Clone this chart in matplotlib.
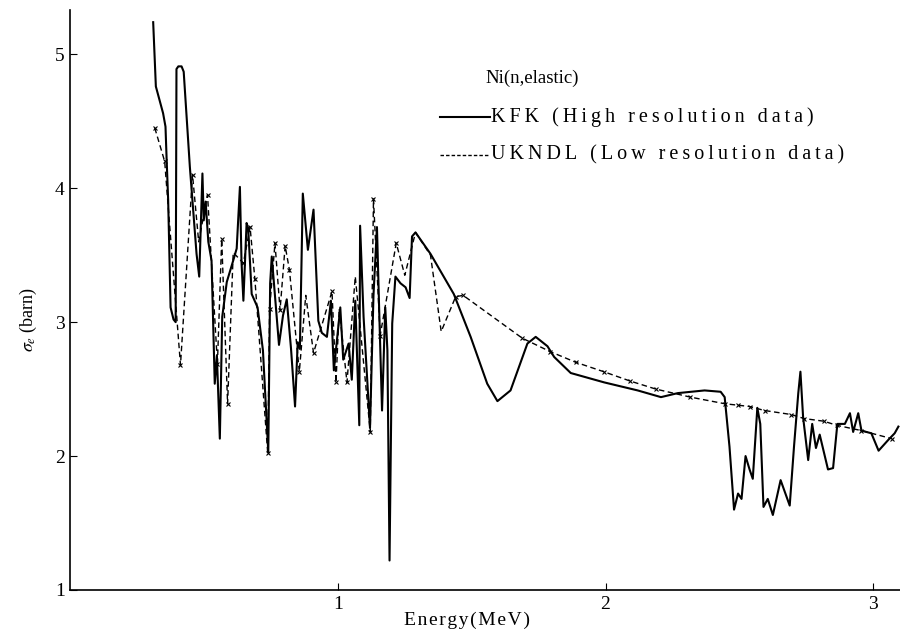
import matplotlib.pyplot as plt

# KFK high resolution elastic cross section (MeV, barn)
kfk_energy = [
    0.310, 0.320, 0.347, 0.356, 0.360, 0.366, 0.375, 0.386, 0.394, 0.397,
    0.404, 0.416, 0.424, 0.447, 0.472, 0.482, 0.494, 0.499, 0.506, 0.516,
    0.528, 0.540, 0.548, 0.559, 0.568, 0.585, 0.609, 0.622, 0.634, 0.640,
    0.647, 0.659, 0.665, 0.678, 0.700, 0.720, 0.740, 0.747, 0.753, 0.765,
    0.780, 0.795, 0.809, 0.825, 0.840, 0.850, 0.858, 0.869, 0.888, 0.909,
    0.927, 0.940, 0.959, 0.974, 0.985, 1.009, 1.020, 1.040, 1.052, 1.065,
    1.080, 1.083, 1.096, 1.120, 1.133, 1.146, 1.155, 1.165, 1.177, 1.185,
    1.193, 1.203, 1.215, 1.234, 1.253, 1.268, 1.277, 1.290, 1.346, 1.433,
    1.496, 1.558, 1.596, 1.645, 1.708, 1.739, 1.783, 1.808, 1.870, 1.995,
    2.120, 2.207, 2.270, 2.370, 2.430, 2.445, 2.463, 2.480, 2.495, 2.508,
    2.523, 2.538, 2.550, 2.567, 2.578, 2.590, 2.606, 2.625, 2.654, 2.688,
    2.704, 2.720, 2.728, 2.738, 2.757, 2.772, 2.786, 2.800, 2.831, 2.850,
    2.866, 2.894, 2.913, 2.925, 2.944, 2.956, 2.993, 3.020, 3.056, 3.080,
    3.094,
]
kfk_sigma = [
    5.24, 4.76, 4.56, 4.46, 4.23, 3.91, 3.11, 3.02, 3.00, 4.89,
    4.91, 4.91, 4.87, 4.16, 3.51, 3.34, 4.11, 3.76, 3.90, 3.60,
    3.46, 2.54, 2.75, 2.13, 3.04, 3.30, 3.46, 3.55, 4.01, 3.45,
    3.16, 3.74, 3.70, 3.21, 3.11, 2.79, 2.03, 3.29, 3.49, 3.20,
    2.83, 3.05, 3.17, 2.80, 2.37, 2.85, 2.80, 3.96, 3.54, 3.84,
    3.01, 2.92, 2.89, 3.16, 2.64, 3.11, 2.72, 2.84, 2.57, 3.16,
    2.23, 3.72, 3.04, 2.21, 3.20, 3.71, 3.04, 2.34, 3.11, 2.79,
    1.22, 2.99, 3.34, 3.29, 3.26, 3.18, 3.64, 3.67, 3.51, 3.21,
    2.89, 2.54, 2.41, 2.49, 2.84, 2.89, 2.82, 2.74, 2.62, 2.55,
    2.49, 2.44, 2.47, 2.49, 2.48, 2.44, 2.07, 1.60, 1.72, 1.68,
    2.00, 1.90, 1.83, 2.36, 2.24, 1.62, 1.68, 1.56, 1.82, 1.63,
    2.07, 2.47, 2.63, 2.29, 1.97, 2.24, 2.06, 2.16, 1.90, 1.91,
    2.24, 2.24, 2.32, 2.18, 2.32, 2.19, 2.17, 2.04, 2.12, 2.17,
    2.22,
]

# UKNDL low resolution evaluation; ukndl_marked flags tabulated points (x)
ukndl_energy = [
    0.316, 0.353, 0.412, 0.457, 0.480, 0.513, 0.550, 0.566, 0.588, 0.609,
    0.647, 0.672, 0.690, 0.738, 0.745, 0.765, 0.784, 0.803, 0.819, 0.856,
    0.880, 0.909, 0.978, 0.993, 1.005, 1.034, 1.065, 1.121, 1.133, 1.158,
    1.218, 1.250, 1.290, 1.346, 1.386, 1.440, 1.468, 1.689, 1.793, 1.889,
    1.993, 2.092, 2.188, 2.317, 2.447, 2.494, 2.538, 2.594, 2.694, 2.742,
    2.816, 2.863, 2.956, 3.069,
]
ukndl_sigma = [
    4.45, 4.20, 2.68, 4.10, 3.60, 3.95, 2.69, 3.62, 2.39, 3.52,
    3.44, 3.71, 3.32, 2.02, 3.10, 3.59, 3.09, 3.57, 3.39, 2.63,
    3.20, 2.77, 3.23, 2.55, 3.10, 2.55, 3.34, 2.18, 3.92, 2.90,
    3.59, 3.35, 3.67, 3.50, 2.93, 3.19, 3.20, 2.88, 2.78, 2.70,
    2.63, 2.56, 2.50, 2.44, 2.39, 2.38, 2.37, 2.34, 2.31, 2.28,
    2.26, 2.23, 2.19, 2.13,
]
ukndl_marked = [
    1, 1, 1, 1, 0, 1, 1, 1, 1, 0,
    1, 1, 1, 1, 1, 1, 1, 1, 1, 1,
    0, 1, 1, 1, 0, 1, 0, 1, 1, 1,
    1, 0, 0, 0, 0, 1, 1, 1, 1, 1,
    1, 1, 1, 1, 1, 1, 1, 1, 1, 1,
    1, 1, 1, 1,
]

x_ticks = [1, 2, 3]
y_ticks = [1, 2, 3, 4, 5]

plt.rcParams["font.family"] = ["Liberation Serif", "DejaVu Serif"]
plt.rcParams["mathtext.fontset"] = "stix"


def spaced(text, gap):
    """Letter-space a string by putting `gap` between its characters."""
    return gap.join(text)


fig = plt.figure(figsize=(9.0, 6.33), dpi=100)
ax = fig.add_axes([0.078, 0.068, 0.922, 0.916])

ax.plot(kfk_energy, kfk_sigma, color="black", linewidth=1.5,
        solid_joinstyle="round")
marks = [i for i, m in enumerate(ukndl_marked) if m]
ax.plot(ukndl_energy, ukndl_sigma, color="black", linewidth=1.0,
        linestyle=(0, (4, 2.5)), marker="x", markersize=3.5,
        markeredgewidth=0.8, markevery=marks)

ax.set_xlim(0, 3.1)
ax.set_ylim(1, 5.33)
ax.set_xticks(x_ticks)
ax.set_yticks(y_ticks)
ax.tick_params(direction="in", length=5, width=0.8, labelsize=14, pad=4)

for side in ("top", "right"):
    ax.spines[side].set_visible(False)
for side in ("left", "bottom"):
    ax.spines[side].set_linewidth(1.2)

ax.set_xlabel(spaced("Energy(MeV)", "\u200a"), fontsize=14, labelpad=1)
ax.xaxis.set_label_coords(0.478, -0.038)
ax.set_ylabel(r"$\sigma_e$ (barn)", fontsize=13)
ax.yaxis.set_label_coords(-0.038, 0.466)

# key block, hand-placed in axes fraction
ax.text(0.50, 0.883, "Ni(n,elastic)", transform=ax.transAxes,
        fontsize=13.5, va="center", ha="left")
ax.plot([0.446, 0.506], [0.816, 0.816], transform=ax.transAxes,
        color="black", linewidth=1.5)
ax.plot([0.446, 0.506], [0.750, 0.750], transform=ax.transAxes,
        color="black", linewidth=1.0, linestyle=(0, (2.5, 1.5)))
ax.text(0.507, 0.816, spaced("KFK (High resolution data)", "\u2009"),
        transform=ax.transAxes, fontsize=14.5, va="center", ha="left")
ax.text(0.507, 0.750, spaced("UKNDL (Low resolution data)", "\u2009"),
        transform=ax.transAxes, fontsize=14.5, va="center", ha="left")

fig.savefig("out.png", dpi=100)
